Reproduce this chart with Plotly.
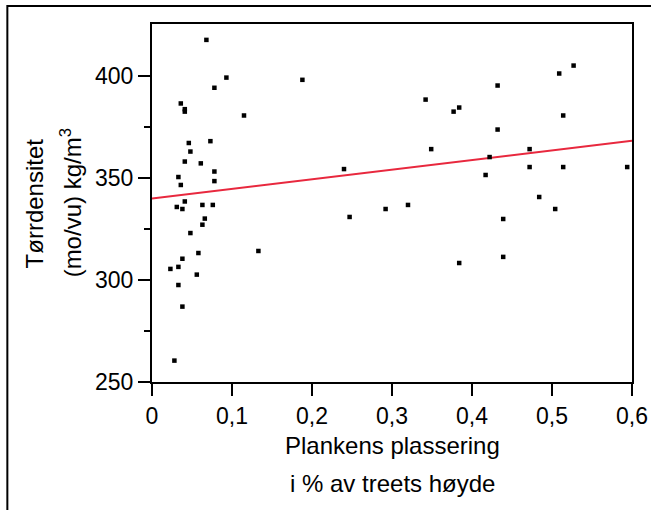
import plotly.graph_objects as go

# Data
plank_pos = [
    0.068, 0.093, 0.078, 0.036, 0.041, 0.041, 0.115, 0.046, 0.073, 0.048,
    0.041, 0.061, 0.078, 0.033, 0.036, 0.078, 0.041, 0.031, 0.038, 0.063,
    0.076, 0.066,
    0.063, 0.048, 0.133, 0.058, 0.038, 0.023, 0.033, 0.056, 0.033, 0.038,
    0.028,
    0.188, 0.342, 0.377, 0.384, 0.349, 0.240, 0.292, 0.320, 0.247, 0.384,
    0.527, 0.509, 0.432, 0.514, 0.432, 0.472, 0.422, 0.417, 0.472, 0.514,
    0.594, 0.484, 0.504, 0.439, 0.439,
]
density = [
    417.9, 399.4, 394.4, 386.7, 383.9, 382.7, 380.8, 367.3, 368.2, 363.1,
    358.2, 357.3, 353.3, 350.6, 346.7, 348.6, 338.6, 335.9, 334.9, 336.9,
    336.9, 330.2,
    327.2, 323.1, 314.3, 313.3, 310.5, 305.5, 306.5, 302.7, 297.6, 287.0,
    260.5,
    398.3, 388.6, 382.7, 384.7, 364.3, 354.5, 334.9, 336.9, 331.0, 308.4,
    405.3, 401.4, 395.5, 380.8, 373.9, 364.3, 360.4, 351.6, 355.5, 355.5,
    355.5, 340.8, 334.9, 330.0, 311.4,
]

# Regression line
fit_x = [0.0, 0.6]
fit_y = [340.1, 368.4]

x_tickvals = [0, 0.1, 0.2, 0.3, 0.4, 0.5, 0.6]
x_ticktext = ["0", "0,1", "0,2", "0,3", "0,4", "0,5", "0,6"]
y_tickvals = [250, 300, 350, 400]
y_ticktext = ["250", "300", "350", "400"]

FONT = "Arial, 'Liberation Sans', sans-serif"

fig = go.Figure()
fig.add_trace(go.Scatter(
    x=fit_x, y=fit_y, mode="lines",
    line=dict(color="#e8283e", width=2),
    hoverinfo="skip", showlegend=False,
))
fig.add_trace(go.Scatter(
    x=plank_pos, y=density, mode="markers",
    marker=dict(symbol="square", size=4.5, color="black", line=dict(width=0)),
    cliponaxis=False, showlegend=False,
))

fig.update_layout(
    width=651, height=510,
    margin=dict(l=152, r=19, t=24, b=128),
    paper_bgcolor="white", plot_bgcolor="white",
    font=dict(family=FONT, size=23, color="black"),
    showlegend=False,
)
fig.update_xaxes(
    range=[0, 0.6], tickvals=x_tickvals, ticktext=x_ticktext,
    automargin=False,
    showgrid=False, zeroline=False,
    showline=True, linecolor="black", linewidth=2, mirror=True,
    ticks="outside", ticklen=12, tickwidth=2, tickcolor="black",
    tickfont=dict(family=FONT, size=23, color="black"),
)
fig.update_yaxes(
    range=[250, 425.7], tickvals=y_tickvals, ticktext=y_ticktext,
    automargin=False,
    showgrid=False, zeroline=False,
    showline=True, linecolor="black", linewidth=2, mirror=True,
    ticks="outside", ticklen=12, tickwidth=2, tickcolor="black",
    tickfont=dict(family=FONT, size=23, color="black"),
    minor=dict(tickvals=[275, 325, 375], ticks="outside", ticklen=6,
               tickwidth=2, tickcolor="black", showgrid=False),
)

# Axis titles as annotations
ann_font = dict(family=FONT, size=24, color="black")
fig.add_annotation(text="Plankens plassering", xref="paper", yref="paper",
                   x=0.5, y=-0.177, xanchor="center", yanchor="middle",
                   showarrow=False, font=ann_font)
fig.add_annotation(text="i % av treets høyde", xref="paper", yref="paper",
                   x=0.5, y=-0.283, xanchor="center", yanchor="middle",
                   showarrow=False, font=ann_font)
fig.add_annotation(text="Tørrdensitet", xref="paper", yref="paper",
                   x=-0.245, y=0.5, xanchor="center", yanchor="middle",
                   textangle=-90, showarrow=False, font=ann_font)
fig.add_annotation(text="(mo/vu) kg/m<sup>3</sup>", xref="paper", yref="paper",
                   x=-0.168, y=0.5, xanchor="center", yanchor="middle",
                   textangle=-90, showarrow=False, font=ann_font)

# Outer frame
fig.add_shape(type="rect", xref="paper", yref="paper",
              x0=(8 - 152.5) / 479.5, x1=1.06,
              y0=-0.40, y1=(382.5 - 6) / 358.5,
              line=dict(color="black", width=2), fillcolor="rgba(0,0,0,0)",
              layer="above")

fig.write_html("out.html")
